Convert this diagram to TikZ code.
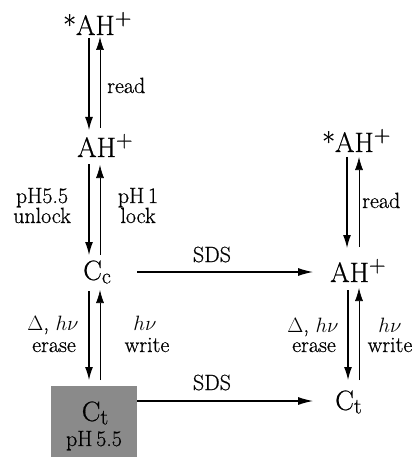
\documentclass[tikz,border=0pt]{standalone}
\usepackage{fontspec}
\setmainfont{Latin Modern Roman}[FakeBold=0.6]
\usetikzlibrary{arrows.meta}
\definecolor{boxgray}{RGB}{138,138,138}
\tikzset{
  spec/.style={inner sep=0pt, font=\fontsize{28}{32}\selectfont},
  lab/.style={inner sep=0pt, font=\fontsize{22}{26}\selectfont},
  dn/.style={line width=1.2pt, -{Latex[length=13pt,width=8pt]}},
  up/.style={line width=0.7pt, -{Latex[length=13pt,width=8pt]}},
  sds/.style={line width=1.1pt, -{Latex[length=15pt,width=8pt]}},
}
\newcommand{\hnu}{$\boldsymbol{h\nu}$}
\newcommand{\sbs}[1]{\raisebox{-0.12em}{\fontsize{22}{22}\selectfont #1}}
\newcommand{\sps}[1]{\raisebox{0.36em}{\fontsize{23}{23}\selectfont #1}}
\providecommand{\boldsymbol}[1]{\mathbf{#1}}
\begin{document}
\begin{tikzpicture}[x=1pt,y=-1pt]
\useasboundingbox (0,0) rectangle (414,457);
% grey box
\fill[boxgray] (51,386) rectangle (137,457);
\coordinate (box) at (137,401);
% species
\node[spec, anchor=base west] (sAHl) at (63,35) {*AH\sps{+}};
\node[spec, anchor=base west] (AHl) at (77,157) {AH\sps{+}};
\node[spec, anchor=base west] (Ccl) at (83,280) {C\sbs{c}};
\node[spec, anchor=base] (Ctl) at (95,421) {C\sbs{t}};
\node[lab, anchor=base] (pHbox) at (94,446) {pH\,5.5};
\node[spec, anchor=base west] (sAHr) at (322,152) {*AH\sps{+}};
\node[spec, anchor=base west] (AHr) at (330,282) {AH\sps{+}};
\node[spec, anchor=base west] (Ctr) at (335,410) {C\sbs{t}};
% labels
\node[lab, anchor=base west] (readl) at (107,93) {read};
\node[lab, anchor=base] (pH55) at (42,203) {pH5.5};
\node[lab, anchor=base] (unlock) at (42,223) {unlock};
\node[lab, anchor=base] (pH1) at (138,203) {pH\,1};
\node[lab, anchor=base] (lock) at (138,223) {lock};
\node[lab, anchor=base] (dhl) at (53,330) {$\Delta$, $h\nu$};
\node[lab, anchor=base] (erasel) at (54,352) {erase};
\node[lab, anchor=base] (hl) at (145,330) {$h\nu$};
\node[lab, anchor=base] (writel) at (147,352) {write};
\node[lab, anchor=base west] (readr) at (362,208) {read};
\node[lab, anchor=base] (dhr) at (313,332) {$\Delta$, $h\nu$};
\node[lab, anchor=base] (eraser) at (314,352) {erase};
\node[lab, anchor=base] (hr) at (390,332) {$h\nu$};
\node[lab, anchor=base] (writer) at (390,352) {write};
\node[lab, anchor=base] (sds1) at (212,262) {SDS};
\node[lab, anchor=base] (sds2) at (212,390) {SDS};
% arrow end points
\coordinate (a1) at (89,38);   \coordinate (a2) at (89,130);
\coordinate (b1) at (100,128); \coordinate (b2) at (100,37);
\coordinate (c1) at (89,164);  \coordinate (c2) at (89,255);
\coordinate (d1) at (100,255); \coordinate (d2) at (100,165);
\coordinate (e1) at (89,291);  \coordinate (e2) at (89,380);
\coordinate (f1) at (100,380); \coordinate (f2) at (100,290);
\coordinate (g1) at (347,157); \coordinate (g2) at (347,248);
\coordinate (h1) at (359,247); \coordinate (h2) at (359,157);
\coordinate (i1) at (348,290); \coordinate (i2) at (348,380);
\coordinate (j1) at (359,380); \coordinate (j2) at (359,288);
\coordinate (s1) at (137,272); \coordinate (s2) at (313,272);
\coordinate (t2) at (313,401);
% arrows
\draw[dn] (a1) -- (a2);
\draw[up] (b1) -- (b2);
\draw[dn] (c1) -- (c2);
\draw[up] (d1) -- (d2);
\draw[dn] (e1) -- (e2);
\draw[up] (f1) -- (f2);
\draw[dn] (g1) -- (g2);
\draw[up] (h1) -- (h2);
\draw[dn] (i1) -- (i2);
\draw[up] (j1) -- (j2);
\draw[sds] (s1) -- (s2);
\draw[sds] (box) -- (t2);
\end{tikzpicture}
\end{document}
